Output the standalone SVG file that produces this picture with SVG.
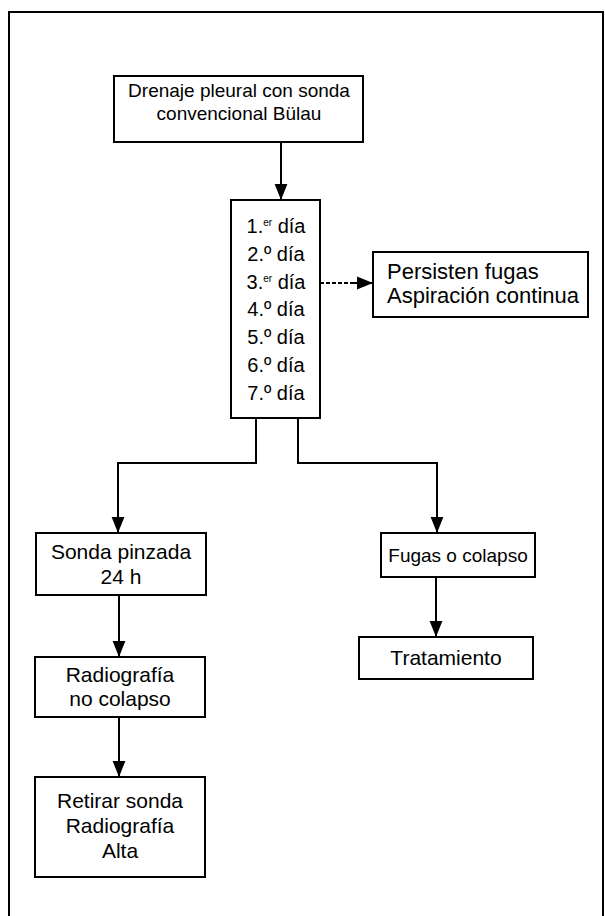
<svg xmlns="http://www.w3.org/2000/svg" width="605" height="916" viewBox="0 0 605 916">
<style>
.box{fill:#fff;stroke:#000;stroke-width:2}
.t{font-family:"Liberation Sans",Arial,sans-serif;font-size:21px;fill:#000;text-anchor:middle}
.d{font-size:20px}
.ti{font-size:19px}
.f{font-size:19px}
.p{font-size:22px;text-anchor:start}
.c{fill:none;stroke:#000;stroke-width:2}
.sup{font-size:10px}
</style>
<defs>
<marker id="ah" markerUnits="userSpaceOnUse" markerWidth="16" markerHeight="20" refX="20" refY="8" viewBox="0 0 20 16" orient="auto">
<path d="M0,0 L20,8 L0,16 Z" fill="#000"/>
</marker>
</defs>
<rect x="0" y="0" width="605" height="916" fill="#fff"/>
<path d="M9,930 V12 H603 V930" fill="none" stroke="#000" stroke-width="2"/>
<g id="connectors">
<path class="c" d="M281,142 V200" marker-end="url(#ah)"/>
<path class="c" d="M320,283 H353" stroke-dasharray="4,2" stroke-width="1.5"/>
<path class="c" d="M352,283 H373" marker-end="url(#ah)"/>
<path class="c" d="M256,418 V463 H118 V533" marker-end="url(#ah)"/>
<path class="c" d="M298,418 V463 H437 V533" marker-end="url(#ah)"/>
<path class="c" d="M119,595 V657" marker-end="url(#ah)"/>
<path class="c" d="M119,717 V777" marker-end="url(#ah)"/>
<path class="c" d="M436,577 V637" marker-end="url(#ah)"/>
</g>
<g id="n-drenaje">
<rect class="box" x="114" y="76" width="249" height="66"/>
<text class="t ti" x="239" y="97">Drenaje pleural con sonda</text>
<text class="t ti" x="239" y="120">convencional Bülau</text>
</g>
<g id="n-dias">
<rect class="box" x="231" y="200" width="89" height="218"/>
<text class="t d" x="276" y="233">1.<tspan class="sup" dy="-7">er</tspan><tspan dy="7"> día</tspan></text>
<text class="t d" x="276" y="261">2.º día</text>
<text class="t d" x="276" y="289">3.<tspan class="sup" dy="-7">er</tspan><tspan dy="7"> día</tspan></text>
<text class="t d" x="276" y="316">4.º día</text>
<text class="t d" x="276" y="344">5.º día</text>
<text class="t d" x="276" y="372">6.º día</text>
<text class="t d" x="276" y="400">7.º día</text>
</g>
<g id="n-persisten">
<rect class="box" x="373" y="252" width="215" height="65"/>
<text class="t p" x="387" y="279">Persisten fugas</text>
<text class="t p" x="387" y="303">Aspiración continua</text>
</g>
<g id="n-sonda">
<rect class="box" x="36" y="533" width="170" height="62"/>
<text class="t" x="121" y="559">Sonda pinzada</text>
<text class="t" x="121" y="584">24 h</text>
</g>
<g id="n-radiografia">
<rect class="box" x="35" y="657" width="170" height="60"/>
<text class="t" x="120" y="682">Radiografía</text>
<text class="t" x="120" y="706">no colapso</text>
</g>
<g id="n-retirar">
<rect class="box" x="35" y="777" width="170" height="100"/>
<text class="t" x="120" y="808">Retirar sonda</text>
<text class="t" x="120" y="833">Radiografía</text>
<text class="t" x="120" y="858">Alta</text>
</g>
<g id="n-fugas">
<rect class="box" x="381" y="533" width="154" height="44"/>
<text class="t f" x="458" y="562">Fugas o colapso</text>
</g>
<g id="n-tratamiento">
<rect class="box" x="359" y="637" width="174" height="42"/>
<text class="t" x="446" y="665">Tratamiento</text>
</g>
</svg>
